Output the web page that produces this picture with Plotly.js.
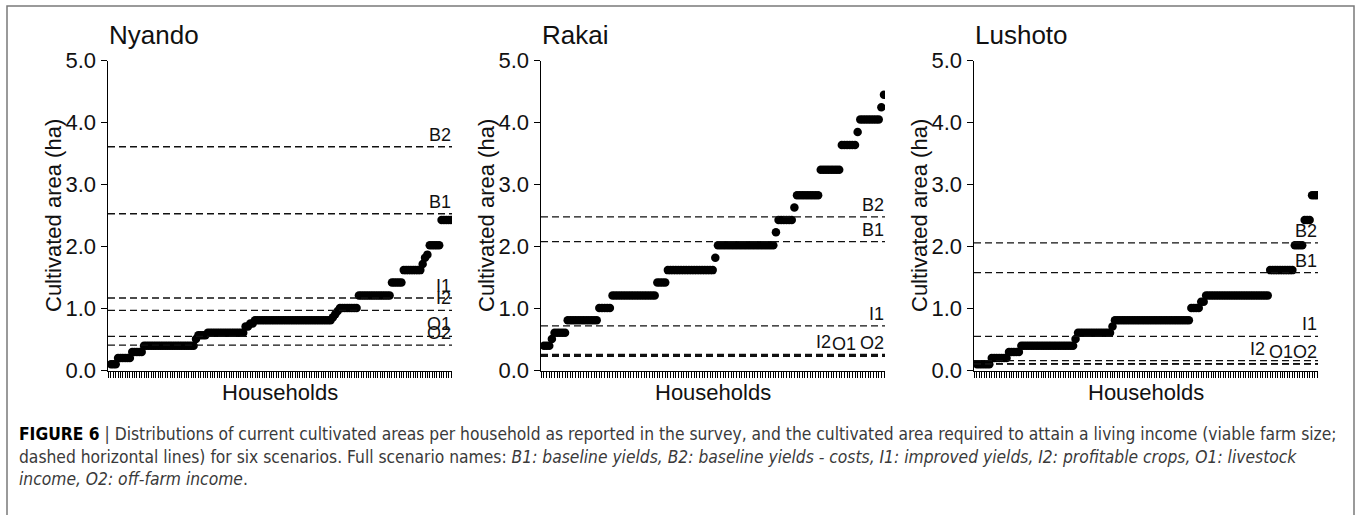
<!DOCTYPE html>
<html>
<head>
<meta charset="utf-8">
<script src="https://cdn.plot.ly/plotly-3.0.1.min.js"></script>
<style>
  html, body { margin: 0; padding: 0; background: #fff; }
  #chart { width: 1357px; height: 515px; }
</style>
</head>
<body>
<div id="chart"></div>
<script>
// Cultivated area per household (ha), sorted ascending, one value per household.
const nyandoArea = [
  0.10, 0.10, 0.10,
  0.20, 0.20, 0.20, 0.20, 0.20, 0.20,
  0.30, 0.30, 0.30, 0.30, 0.30,
  0.40, 0.40, 0.40, 0.40, 0.40, 0.40, 0.40, 0.40, 0.40, 0.40, 0.40,
  0.40, 0.40, 0.40, 0.40, 0.40, 0.40, 0.40, 0.40, 0.40, 0.40, 0.40,
  0.51, 0.57, 0.57, 0.57, 0.57,
  0.61, 0.61, 0.61, 0.61, 0.61, 0.61, 0.61, 0.61,
  0.61, 0.61, 0.61, 0.61, 0.61, 0.61, 0.61, 0.61,
  0.71, 0.71, 0.76, 0.76,
  0.81, 0.81, 0.81, 0.81, 0.81, 0.81, 0.81, 0.81, 0.81, 0.81, 0.81,
  0.81, 0.81, 0.81, 0.81, 0.81, 0.81, 0.81, 0.81, 0.81, 0.81, 0.81,
  0.81, 0.81, 0.81, 0.81, 0.81, 0.81, 0.81, 0.81, 0.81, 0.81, 0.81,
  0.86, 0.91, 0.96,
  1.01, 1.01, 1.01, 1.01, 1.01, 1.01, 1.01, 1.01,
  1.21, 1.21, 1.21, 1.21, 1.21, 1.21, 1.21,
  1.21, 1.21, 1.21, 1.21, 1.21, 1.21, 1.21,
  1.42, 1.42, 1.42, 1.42, 1.42,
  1.62, 1.62, 1.62, 1.62, 1.62, 1.62, 1.62, 1.62,
  1.72, 1.82, 1.87,
  2.02, 2.02, 2.02, 2.02, 2.02,
  2.43, 2.43, 2.43, 2.43, 2.43
];

const rakaiArea = [
  0.40, 0.40, 0.40,
  0.51,
  0.61, 0.61, 0.61, 0.61, 0.61,
  0.81, 0.81, 0.81, 0.81, 0.81, 0.81, 0.81, 0.81, 0.81, 0.81, 0.81, 0.81,
  1.01, 1.01, 1.01, 1.01, 1.01,
  1.21, 1.21, 1.21, 1.21, 1.21, 1.21, 1.21, 1.21, 1.21,
  1.21, 1.21, 1.21, 1.21, 1.21, 1.21, 1.21, 1.21,
  1.42, 1.42, 1.42, 1.42,
  1.62, 1.62, 1.62, 1.62, 1.62, 1.62, 1.62, 1.62, 1.62,
  1.62, 1.62, 1.62, 1.62, 1.62, 1.62, 1.62, 1.62, 1.62,
  1.82,
  2.02, 2.02, 2.02, 2.02, 2.02, 2.02, 2.02, 2.02, 2.02, 2.02, 2.02,
  2.02, 2.02, 2.02, 2.02, 2.02, 2.02, 2.02, 2.02, 2.02, 2.02, 2.02,
  2.23,
  2.43, 2.43, 2.43, 2.43, 2.43, 2.43,
  2.63,
  2.83, 2.83, 2.83, 2.83, 2.83, 2.83, 2.83, 2.83, 2.83,
  3.24, 3.24, 3.24, 3.24, 3.24, 3.24, 3.24, 3.24,
  3.64, 3.64, 3.64, 3.64, 3.64, 3.64,
  3.85,
  4.05, 4.05, 4.05, 4.05, 4.05, 4.05, 4.05, 4.05,
  4.25,
  4.45
];

const lushotoArea = [
  0.10, 0.10, 0.10, 0.10, 0.10, 0.10,
  0.20, 0.20, 0.20, 0.20, 0.20, 0.20, 0.20,
  0.30, 0.30, 0.30, 0.30, 0.30,
  0.40, 0.40, 0.40, 0.40, 0.40, 0.40, 0.40, 0.40, 0.40, 0.40, 0.40,
  0.40, 0.40, 0.40, 0.40, 0.40, 0.40, 0.40, 0.40, 0.40, 0.40, 0.40,
  0.51,
  0.61, 0.61, 0.61, 0.61, 0.61, 0.61, 0.61,
  0.61, 0.61, 0.61, 0.61, 0.61, 0.61, 0.61,
  0.71,
  0.81, 0.81, 0.81, 0.81, 0.81, 0.81, 0.81, 0.81, 0.81, 0.81, 0.81,
  0.81, 0.81, 0.81, 0.81, 0.81, 0.81, 0.81, 0.81, 0.81, 0.81,
  0.81, 0.81, 0.81, 0.81, 0.81, 0.81, 0.81, 0.81, 0.81, 0.81,
  1.01, 1.01, 1.01, 1.01,
  1.11, 1.11,
  1.21, 1.21, 1.21, 1.21, 1.21, 1.21, 1.21, 1.21, 1.21, 1.21, 1.21, 1.21, 1.21,
  1.21, 1.21, 1.21, 1.21, 1.21, 1.21, 1.21, 1.21, 1.21, 1.21, 1.21, 1.21, 1.21,
  1.62, 1.62, 1.62, 1.62, 1.62, 1.62, 1.62, 1.62, 1.62, 1.62,
  2.02, 2.02, 2.02, 2.02,
  2.43, 2.43, 2.43,
  2.83, 2.83, 2.83
];

// Viable farm size (ha) per scenario, same order as scenarioNames.
const scenarioNames = ['B1', 'B2', 'I1', 'I2', 'O1', 'O2'];
const nyandoViable  = [2.53, 3.61, 1.17, 0.97, 0.55, 0.41];
const rakaiViable   = [2.08, 2.48, 0.72, 0.26, 0.23, 0.245];
const lushotoViable = [1.58, 2.06, 0.55, 0.16, 0.105, 0.11];

const siteNames = ['Nyando', 'Rakai', 'Lushoto'];
const yTickVals = [0, 1, 2, 3, 4, 5];
const yTickText = ['0.0', '1.0', '2.0', '3.0', '4.0', '5.0'];
const yAxisTitle = 'Cultivated area (ha)';
const xAxisTitle = 'Households';

// ---- layout geometry (pixels on a 1357 x 515 page) ----
const W = 1357, H = 515;
const FONT = 'Liberation Sans, Arial, Helvetica, sans-serif';
const INK = '#111';
const axisLeftPx = [108, 541, 974];
const axisWidthPx = 344;
const plotTopPx = 60.7, plotBottomPx = 370.5;

// horizontal nudges (px) for crowded labels near the axis end
const labelShift = [
  { I2: 0, O1: 0, O2: 0 },
  { I2: -53, O1: -28, O2: 0 },
  { I2: -52, O1: -24, O2: 0 }
];

const sites = [
  { area: nyandoArea, viable: nyandoViable },
  { area: rakaiArea, viable: rakaiViable },
  { area: lushotoArea, viable: lushotoViable }
];

const px2x = p => p / W;
const px2y = p => (H - p) / H;

const data = [];
const shapes = [];
const annotations = [];
const layout = {
  width: W, height: H,
  margin: { l: 0, r: 0, t: 0, b: 0 },
  paper_bgcolor: '#fff', plot_bgcolor: '#fff',
  showlegend: false,
  font: { family: FONT, color: INK }
};

sites.forEach((s, i) => {
  const n = i + 1;
  const xa = n === 1 ? 'x' : 'x' + n;
  const ya = n === 1 ? 'y' : 'y' + n;
  const xKey = n === 1 ? 'xaxis' : 'xaxis' + n;
  const yKey = n === 1 ? 'yaxis' : 'yaxis' + n;
  const N = s.area.length;
  const step = axisWidthPx / N;

  data.push({
    type: 'scatter', mode: 'markers',
    x: s.area.map((_, k) => k + 1),
    y: s.area,
    xaxis: xa, yaxis: ya,
    marker: { size: 8.5, color: '#000', line: { width: 0 } },
    hoverinfo: 'y'
  });

  const x0 = px2x(axisLeftPx[i]);
  const x1 = px2x(axisLeftPx[i] + axisWidthPx);
  layout[xKey] = {
    domain: [x0, x1],
    anchor: ya,
    range: [1 - 3 / step, N + 1 / step],
    showline: true, linecolor: '#000', linewidth: 1.5,
    ticks: 'outside', ticklen: 6, tickwidth: 1, tickcolor: '#000',
    tick0: 1, dtick: 1,
    showticklabels: false, showgrid: false, zeroline: false
  };
  layout[yKey] = {
    domain: [px2y(plotBottomPx), px2y(plotTopPx)],
    anchor: xa,
    range: [0, 5],
    tickmode: 'array', tickvals: yTickVals, ticktext: yTickText,
    showline: true, linecolor: '#000', linewidth: 1.5,
    ticks: 'outside', ticklen: 6, tickwidth: 1.5, tickcolor: '#000',
    tickfont: { size: 22, family: FONT, color: INK },
    showgrid: false, zeroline: false
  };

  // dashed viable-farm-size lines and their labels
  s.viable.forEach((v, j) => {
    shapes.push({
      type: 'line', xref: xa + ' domain', yref: ya,
      x0: 0, x1: 1, y0: v, y1: v,
      line: { color: INK, width: 1.4, dash: '7px,4px' }
    });
    const name = scenarioNames[j];
    annotations.push({
      xref: xa + ' domain', yref: ya,
      x: 1, y: v, xanchor: 'right', yanchor: 'bottom',
      xshift: 1 + (labelShift[i][name] || 0), yshift: 0,
      text: name, showarrow: false,
      font: { size: 18, family: FONT, color: INK }
    });
  });

  // panel title, axis titles
  annotations.push({
    xref: 'paper', yref: 'paper',
    x: px2x(axisLeftPx[i] - 1), y: px2y(35),
    xanchor: 'left', yanchor: 'middle',
    text: siteNames[i], showarrow: false,
    font: { size: 26, family: FONT, color: INK }
  });
  annotations.push({
    xref: 'paper', yref: 'paper',
    x: px2x(axisLeftPx[i] - 55), y: px2y(216),
    xanchor: 'center', yanchor: 'middle', textangle: -90,
    text: yAxisTitle, showarrow: false,
    font: { size: 22, family: FONT, color: INK }
  });
  annotations.push({
    xref: 'paper', yref: 'paper',
    x: px2x(axisLeftPx[i] + axisWidthPx / 2), y: px2y(392),
    xanchor: 'center', yanchor: 'middle',
    text: xAxisTitle, showarrow: false,
    font: { size: 22, family: FONT, color: INK }
  });
});

// figure caption
const CAP_FONT = 'Liberation Sans Narrow, DejaVu Sans Condensed, Arial Narrow, sans-serif';
const captionLines = [
  '<span style="color:#000"><b>FIGURE 6</b></span> | Distributions of current cultivated areas per household as reported in the survey, and the cultivated area required to attain a living income (viable farm size;',
  'dashed horizontal lines) for six scenarios. Full scenario names: <i>B1: baseline yields, B2: baseline yields - costs, I1: improved yields, I2: profitable crops, O1: livestock</i>',
  '<i>income, O2: off-farm income</i>.'
];
const captionY = [434, 457, 479];
captionLines.forEach((t, k) => {
  annotations.push({
    xref: 'paper', yref: 'paper',
    x: px2x(17), y: px2y(captionY[k]),
    xanchor: 'left', yanchor: 'middle',
    text: t, showarrow: false, align: 'left',
    font: { size: 17.3, family: CAP_FONT, color: '#3a3a3a' }
  });
});

// outer frame
shapes.push({
  type: 'rect', xref: 'paper', yref: 'paper',
  x0: px2x(7), x1: px2x(1354), y0: -0.1, y1: px2y(6),
  line: { color: '#7a7a7a', width: 1.5 }, fillcolor: 'rgba(0,0,0,0)'
});

layout.shapes = shapes;
layout.annotations = annotations;

Plotly.newPlot('chart', data, layout, { staticPlot: true, displayModeBar: false });
</script>
</body>
</html>
